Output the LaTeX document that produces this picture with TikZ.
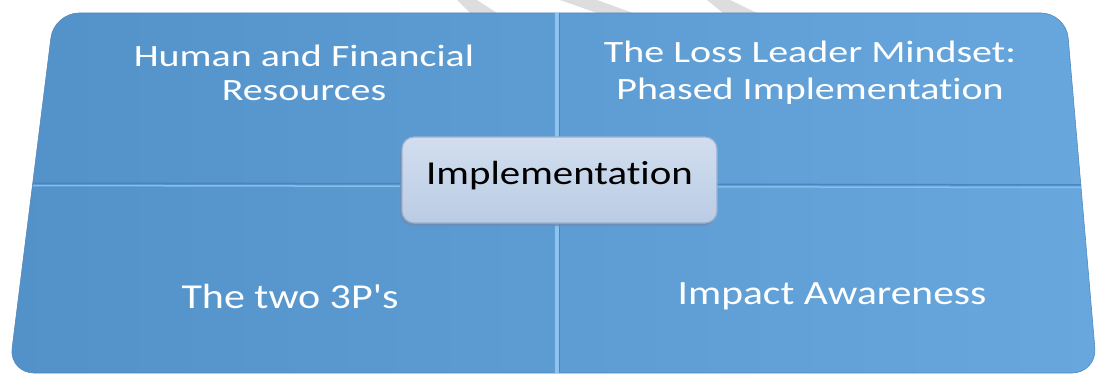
\documentclass[tikz,border=0pt]{standalone}
\usepackage{fontspec}
\setmainfont[Ligatures={NoCommon}]{Carlito}
\newfontfamily\calib[Ligatures={NoCommon}]{Carlito}
\usepackage{graphicx}
\usetikzlibrary{shadows}
\definecolor{qleft}{HTML}{5392C8}
\definecolor{qright}{HTML}{68A7DD}
\definecolor{edgeblue}{HTML}{5089BE}
\definecolor{divlight}{HTML}{8CC3EF}
\definecolor{divdark}{HTML}{4A86BD}
\definecolor{boxtop}{HTML}{D2DEEF}
\definecolor{boxbot}{HTML}{BACCE4}
\definecolor{boxedge}{HTML}{9AB0CE}
\definecolor{boxshadow}{HTML}{6D8CB4}
\definecolor{wmark}{HTML}{DDDDDD}
\tikzset{
  wtext/.style={text=white, inner sep=0pt, anchor=base, font=\calib},
  centerbox/.style={top color=boxtop, bottom color=boxbot, draw=boxedge, line width=1.2pt,
    rounded corners=12pt, minimum width=315pt, minimum height=86pt, inner sep=0pt,
    text height=20pt, text depth=10pt, text=black, font=\calib,
    drop shadow={shadow xshift=-2pt, shadow yshift=-3pt, fill=boxshadow, opacity=0.8}},
  wm/.style={fill=wmark, draw=none}
}
\begin{document}
\begin{tikzpicture}[x=1pt,y=-1pt]
\useasboundingbox (0,0) rectangle (1099,374);
% watermark fragments
\path[wm] (457,0) -- (477,0) -- (497,13) -- (470,13) -- cycle;
\path[wm] (560,0) -- (597,0) -- (633,13) -- (597,13) -- cycle;
\path[wm] (707,0) -- (730,0) -- (757,13) -- (723,13) -- cycle;
% main panel
\shade[left color=qleft, right color=qright, rounded corners=25pt]
  (54,13) -- (1066,13) -- (1097,373) -- (9,373) -- cycle;
\draw[edgeblue, line width=0.6pt, rounded corners=25pt]
  (54,13) -- (1066,13) -- (1097,373) -- (9,373) -- cycle;
% dividers
\coordinate (vt) at (557,13);
\coordinate (vb) at (557,373);
\coordinate (hl) at (33,184);
\coordinate (hr) at (1081,186);
\draw[divlight, line width=3.5pt] (vt) -- (vb);
\draw[divdark, line width=0.8pt] ([xshift=2.8pt]vt) -- ([xshift=2.8pt]vb);
\draw[divdark, line width=1.5pt] ([yshift=1pt]hl) -- ([yshift=1pt]hr);
\draw[divlight!80!qright, line width=1.5pt] ([yshift=-1.5pt]hl) -- ([yshift=-1.5pt]hr);
% quadrant texts
\node[wtext] (q1a) at (304,67) {\fontsize{31}{36}\selectfont\scalebox{1.29}[1]{Human and Financial}};
\node[wtext] (q1b) at (304,101) {\fontsize{31}{36}\selectfont\scalebox{1.29}[1]{Resources}};
\node[wtext] (q2a) at (810,63) {\fontsize{31}{36}\selectfont\scalebox{1.29}[1]{The Loss Leader Mindset:}};
\node[wtext] (q2b) at (810,100) {\fontsize{31}{36}\selectfont\scalebox{1.29}[1]{Phased Implementation}};
\node[wtext] (q3) at (290,308) {\fontsize{35}{40}\selectfont\scalebox{1.2}[1]{The two 3P's}};
\node[wtext] (q4) at (832,304) {\fontsize{34}{40}\selectfont\scalebox{1.22}[1]{Impact Awareness}};
% center box
\node[centerbox] (impl) at (559.5,180) {\fontsize{33.5}{40}\selectfont\scalebox{1.22}[1]{Implementation}};
\end{tikzpicture}
\end{document}
